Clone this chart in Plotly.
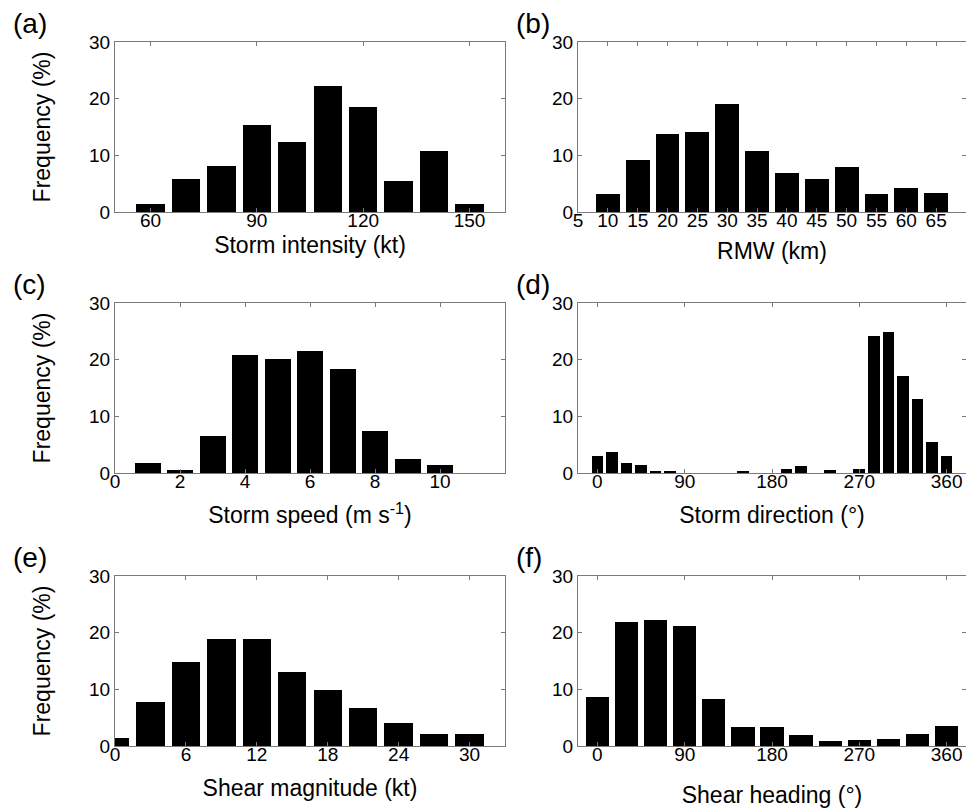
import plotly.graph_objects as go
from plotly.subplots import make_subplots

# ---- data ----
intensity_x = [60, 70, 80, 90, 100, 110, 120, 130, 140, 150]
intensity_y = [1.4, 5.9, 8.1, 15.3, 12.4, 22.3, 18.6, 5.4, 10.7, 1.4]

rmw_x = [10, 15, 20, 25, 30, 35, 40, 45, 50, 55, 60, 65]
rmw_y = [3.2, 9.1, 13.7, 14.1, 19.0, 10.7, 6.8, 5.8, 8.0, 3.2, 4.2, 3.3]

speed_x = [1, 2, 3, 4, 5, 6, 7, 8, 9, 10]
speed_y = [1.8, 0.6, 6.6, 20.8, 20.1, 21.6, 18.3, 7.4, 2.4, 1.5]

dir_x = list(range(0, 361, 15))
dir_y = [3.0, 3.7, 1.7, 1.4, 0.35, 0.3, 0, 0, 0, 0, 0.4, 0, 0, 0.65, 1.2, 0,
         0.5, 0, 0.7, 24.2, 24.9, 17.1, 13.1, 5.5, 3.0]

shear_x = [0, 3, 6, 9, 12, 15, 18, 21, 24, 27, 30]
shear_y = [1.4, 7.7, 14.8, 18.9, 18.9, 13.0, 9.8, 6.7, 4.1, 2.1, 2.1]

heading_x = [0, 30, 60, 90, 120, 150, 180, 210, 240, 270, 300, 330, 360]
heading_y = [8.7, 21.8, 22.2, 21.2, 8.3, 3.4, 3.4, 1.9, 0.9, 1.1, 1.3, 2.2, 3.6]

panel_labels = ["(a)", "(b)", "(c)", "(d)", "(e)", "(f)"]
x_titles = ["Storm intensity (kt)", "RMW (km)", "Storm speed (m s<sup>-1</sup>)",
            "Storm direction (°)", "Shear magnitude (kt)", "Shear heading (°)"]
y_title = "Frequency (%)"
y_ticks = [0, 10, 20, 30]

panels = [
    dict(x=intensity_x, y=intensity_y, w=8, rng=[50, 160], ticks=[60, 90, 120, 150], stand=7),
    dict(x=rmw_x, y=rmw_y, w=4, rng=[5, 70], ticks=list(range(5, 66, 5)), stand=13),
    dict(x=speed_x, y=speed_y, w=0.8, rng=[0, 12], ticks=[0, 2, 4, 6, 8, 10], stand=16),
    dict(x=dir_x, y=dir_y, w=12, rng=[-20, 380], ticks=[0, 90, 180, 270, 360], stand=16),
    dict(x=shear_x, y=shear_y, w=2.4, rng=[0, 33], ticks=[0, 6, 12, 18, 24, 30], stand=16),
    dict(x=heading_x, y=heading_y, w=24, rng=[-20, 380], ticks=[0, 90, 180, 270, 360], stand=23),
]

W, H = 966, 808
xdom_px = [(115, 505), (578, 966)]
ydom_px = [(42, 212), (303, 473), (576, 746)]

fig = make_subplots(rows=3, cols=2)
FONT = "Liberation Sans, Arial, sans-serif"
AXC = "#7a7a7a"

for i, p in enumerate(panels):
    r, c = i // 2 + 1, i % 2 + 1
    fig.add_trace(go.Bar(x=p["x"], y=p["y"], width=p["w"],
                         marker=dict(color="black", line=dict(width=0)),
                         showlegend=False), row=r, col=c)
    xd = xdom_px[c - 1]
    yd = ydom_px[r - 1]
    fig.update_xaxes(domain=[xd[0] / W, min(xd[1] / W, 1.0)], range=p["rng"],
                     tickvals=p["ticks"], ticks="inside", ticklen=4, tickcolor=AXC,
                     showline=True, linecolor=AXC, linewidth=1, mirror="ticks",
                     showgrid=False, zeroline=False, ticklabelstandoff=-9,
                     tickfont=dict(size=19, color="black", family=FONT),
                     title=dict(text=x_titles[i], standoff=p["stand"],
                                font=dict(size=23, color="black", family=FONT)),
                     automargin=False, row=r, col=c)
    yargs = dict(domain=[1 - yd[1] / H, 1 - yd[0] / H], range=[0, 30],
                 tickvals=y_ticks, ticks="inside", ticklen=4, tickcolor=AXC,
                 showline=True, linecolor=AXC, linewidth=1, mirror="ticks",
                 showgrid=False, zeroline=False,
                 tickfont=dict(size=19, color="black", family=FONT),
                 automargin=False)
    if c == 1:
        yargs["title"] = dict(text=y_title, standoff=32,
                              font=dict(size=23, color="black", family=FONT))
    fig.update_yaxes(**yargs, row=r, col=c)
    fig.add_annotation(text=panel_labels[i], xref="paper", yref="paper",
                       x=(11 if c == 1 else 514) / W, y=1 - (yd[0] - 19) / H,
                       xanchor="left", yanchor="middle", showarrow=False,
                       font=dict(size=28, color="black", family=FONT))

fig.update_layout(width=W, height=H, margin=dict(l=0, r=0, t=0, b=0),
                  paper_bgcolor="white", plot_bgcolor="white", bargap=0,
                  font=dict(family=FONT, color="black"))

fig.write_html("out.html")
